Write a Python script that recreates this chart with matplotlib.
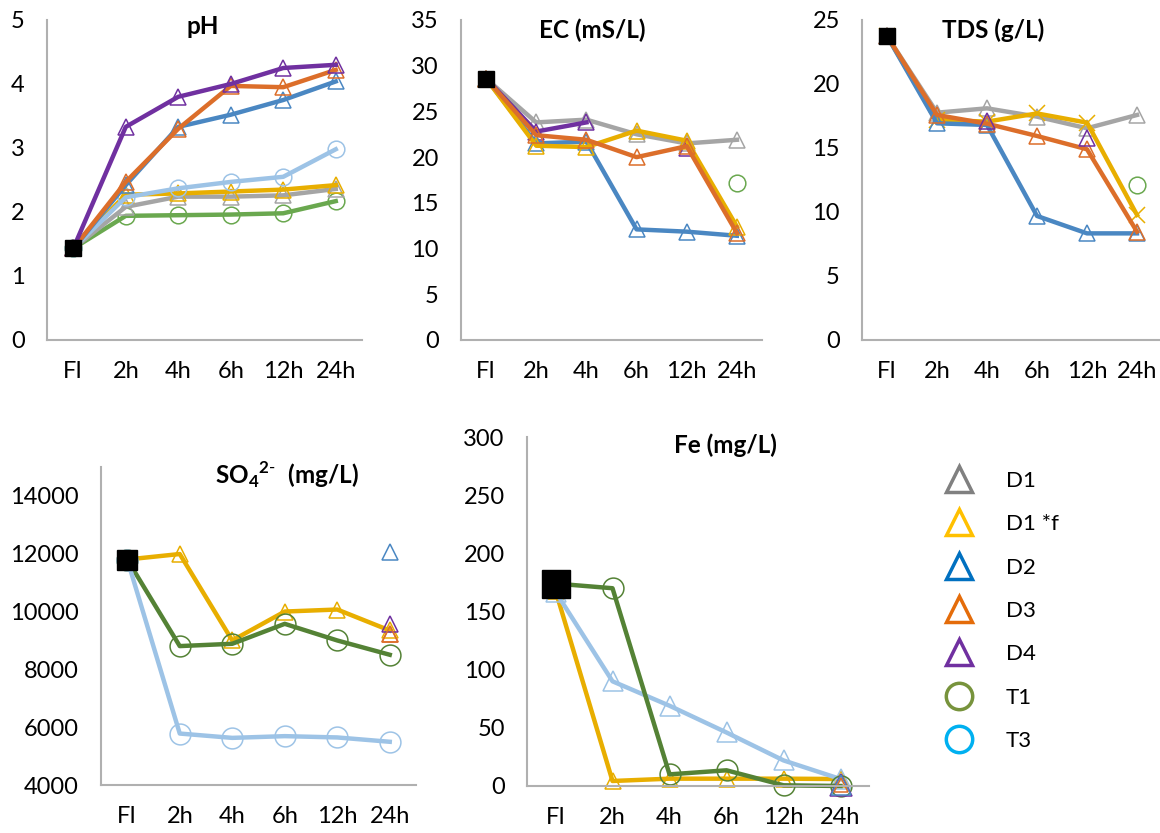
import numpy as np
import matplotlib.pyplot as plt
from matplotlib.lines import Line2D

plt.rcParams['font.family'] = ['Lato', 'DejaVu Sans']
plt.rcParams['mathtext.fontset'] = 'custom'
plt.rcParams['mathtext.rm'] = 'Lato'
plt.rcParams['mathtext.bf'] = 'Lato:bold'

nan = np.nan
times = ['FI', '2h', '4h', '6h', '12h', '24h']

# pH
ph_fi = [1.43, nan, nan, nan, nan, nan]
ph_d1 = [1.43, 2.08, 2.24, 2.24, 2.26, 2.36]
ph_d1f = [1.43, 2.27, 2.29, 2.32, 2.35, 2.42]
ph_d2 = [1.43, 2.42, 3.33, 3.52, 3.75, 4.04]
ph_d3 = [1.43, 2.47, 3.30, 3.97, 3.95, 4.22]
ph_d4 = [1.43, 3.33, 3.80, 4.00, 4.25, 4.30]
ph_t1 = [1.43, 1.94, 1.95, 1.96, 1.98, 2.17]
ph_t3 = [1.43, 2.23, 2.37, 2.47, 2.55, 2.98]

# EC (mS/L)
ec_fi = [28.6, nan, nan, nan, nan, nan]
ec_d1 = [28.6, 23.8, 24.1, 22.5, 21.5, 21.9]
ec_d1f = [28.6, 21.25, 21.1, 22.9, 21.8, 12.4]
ec_d2 = [28.6, 21.5, 21.7, 12.1, 11.85, 11.4]
ec_d3 = [28.6, 22.4, 21.9, 20.0, 21.2, 11.7]
ec_d4 = [28.6, 22.8, 23.8, nan, 21.0, nan]
ec_t1 = [nan, nan, nan, nan, nan, 17.2]

# TDS (g/L)
tds_fi = [23.75, nan, nan, nan, nan, nan]
tds_d1 = [23.75, 17.76, 18.1, 17.45, 16.54, 17.58]
tds_d1f = [23.75, 17.2, 17.06, 17.7, 16.98, 9.77]
tds_d2 = [23.75, 16.93, 16.8, 9.69, 8.33, 8.33]
tds_d3 = [23.75, 17.58, 16.9, 15.94, 14.9, 8.46]
tds_d4 = [nan, nan, 17.1, nan, 15.75, nan]
tds_t1 = [nan, nan, nan, nan, nan, 12.1]

# SO4 (mg/L)
so4_fi = [11800, nan, nan, nan, nan, nan]
so4_d1f = [11800, 11990, 9000, 10000, 10070, 9345]
so4_d2 = [nan, nan, nan, nan, nan, 12070]
so4_d3 = [11750, nan, nan, nan, nan, 9230]
so4_d4 = [nan, nan, nan, nan, nan, 9575]
so4_t1 = [11800, 8805, 8885, 9575, 9000, 8505]
so4_t3 = [11800, 5780, 5630, 5690, 5645, 5495]

# Fe (mg/L)
fe_fi = [174, nan, nan, nan, nan, nan]
fe_d1f = [168, 4.3, 6.3, 6.3, 6.3, 6.0]
fe_d2 = [nan, nan, nan, nan, nan, 1.0]
fe_d3 = [nan, nan, nan, nan, nan, 1.0]
fe_d4 = [nan, nan, nan, nan, nan, 0.5]
fe_t1 = [174, 170, 10, 13.5, 0.6, 0.0]
fe_t3 = [167, 90, 69, 46, 22, 6]

line_col = {'D1': '#a5a5a5', 'D1f': '#e8ae00', 'D2': '#4a87c2', 'D3': '#dc6e2a',
            'D4': '#7030a0', 'T1': '#548235', 'T1p': '#6aa84f', 'T3': '#9dc3e6'}

W, H = 1160, 833
fig = plt.figure(figsize=(W / 100, H / 100), dpi=100)


def make_ax(left, right, top, bottom):
    ax = fig.add_axes([left / W, 1 - bottom / H, (right - left) / W, (bottom - top) / H])
    for s in ['top', 'right']:
        ax.spines[s].set_visible(False)
    for s in ['left', 'bottom']:
        ax.spines[s].set_color('#b0b0b0')
        ax.spines[s].set_linewidth(1.5)
    ax.set_xlim(-0.5, 5.5)
    ax.set_xticks(range(6))
    ax.set_xticklabels(times)
    ax.tick_params(axis='both', length=0, labelsize=17)
    ax.tick_params(axis='y', pad=16)
    ax.tick_params(axis='x', pad=15)
    return ax


def draw(ax, vals, color, marker='^', ms=12, lw=3.2, z=2):
    x = np.arange(6)
    ax.plot(x, vals, color=color, lw=lw, marker=marker, ms=ms, mfc='none',
            mec=color, mew=1.1, zorder=z, clip_on=False)


def draw_fi(ax, vals, ms=12):
    ax.plot(np.arange(6), vals, ls='none', marker='s', ms=ms, color='black', zorder=10,
            clip_on=False)


def title(x, y, txt):
    fig.text(x / W, 1 - y / H, txt, ha='center', va='center', fontsize=17.5,
             fontweight='bold')


# pH
ax = make_ax(47, 362, 20, 340)
ax.set_ylim(0, 5)
ax.set_yticks(range(0, 6))
draw(ax, ph_t1, line_col['T1p'], 'o')
draw(ax, ph_d1, line_col['D1'])
draw(ax, ph_d1f, line_col['D1f'])
draw(ax, ph_t3, line_col['T3'], 'o')
draw(ax, ph_d2, line_col['D2'])
draw(ax, ph_d3, line_col['D3'])
draw(ax, ph_d4, line_col['D4'])
draw_fi(ax, ph_fi)
title(203, 27, 'pH')

# EC
ax = make_ax(461, 762, 20, 340)
ax.set_ylim(0, 35)
ax.set_yticks(range(0, 36, 5))
draw(ax, ec_d1, line_col['D1'])
draw(ax, ec_d4, line_col['D4'])
draw(ax, ec_d2, line_col['D2'])
draw(ax, ec_d1f, line_col['D1f'])
draw(ax, ec_d3, line_col['D3'])
draw(ax, ec_t1, line_col['T1p'], 'o')
draw_fi(ax, ec_fi)
title(592, 30, 'EC (mS/L)')

# TDS
ax = make_ax(862, 1162, 20, 340)
ax.set_ylim(0, 25)
ax.set_yticks(range(0, 26, 5))
draw(ax, tds_d1, line_col['D1'])
draw(ax, tds_d1f, line_col['D1f'], 'x')
draw(ax, tds_d2, line_col['D2'])
draw(ax, tds_d3, line_col['D3'])
draw(ax, tds_d4, line_col['D4'])
draw(ax, tds_t1, line_col['T1p'], 'o')
draw_fi(ax, tds_fi)
title(993, 30, 'TDS (g/L)')

# SO4
ax = make_ax(101, 416, 467, 785)
ax.set_ylim(4000, 15000)
ax.set_yticks(range(4000, 14001, 2000))
draw(ax, so4_d3, line_col['D3'], lw=0)
draw(ax, so4_d1f, line_col['D1f'])
draw(ax, so4_t1, line_col['T1'], 'o', ms=15)
draw(ax, so4_t3, line_col['T3'], 'o', ms=15)
draw(ax, so4_d2, line_col['D2'])
draw(ax, so4_d4, line_col['D4'])
draw(ax, so4_d3, line_col['D3'])
draw_fi(ax, so4_fi, ms=14)
title(287, 475, r'SO$_\mathbf{4}$$^{\mathbf{2}\text{-}}$  (mg/L)')

# Fe
ax = make_ax(527, 869, 437, 786)
ax.set_ylim(0, 300)
ax.set_yticks(range(0, 301, 50))
draw(ax, fe_d1f, line_col['D1f'])
draw(ax, fe_t3, line_col['T3'], '^', ms=14)
draw(ax, fe_t1, line_col['T1'], 'o', ms=15)
draw(ax, fe_d4, line_col['D4'], ms=16)
draw(ax, fe_d2, line_col['D2'], ms=15)
draw(ax, fe_d3, line_col['D3'], ms=10)
draw_fi(ax, fe_fi, ms=20)
title(725, 445, 'Fe (mg/L)')

# legend
leg_names = ['D1', 'D1 *f', 'D2', 'D3', 'D4', 'T1', 'T3']
leg_cols = ['#808080', '#ffc000', '#0070c0', '#e46c0a', '#7030a0', '#77933c', '#00b0f0']
leg_marks = ['^', '^', '^', '^', '^', 'o', 'o']
handles = [Line2D([], [], ls='none', marker=m, ms=19, mfc='none', mec=c, mew=2.5)
           for m, c in zip(leg_marks, leg_cols)]
fig.legend(handles, leg_names, loc='upper left', bbox_to_anchor=(928 / W, 1 - 462 / H),
           frameon=False, fontsize=16, labelspacing=1.05, handletextpad=1.1,
           borderaxespad=0)

fig.savefig('out.png', dpi=100)
